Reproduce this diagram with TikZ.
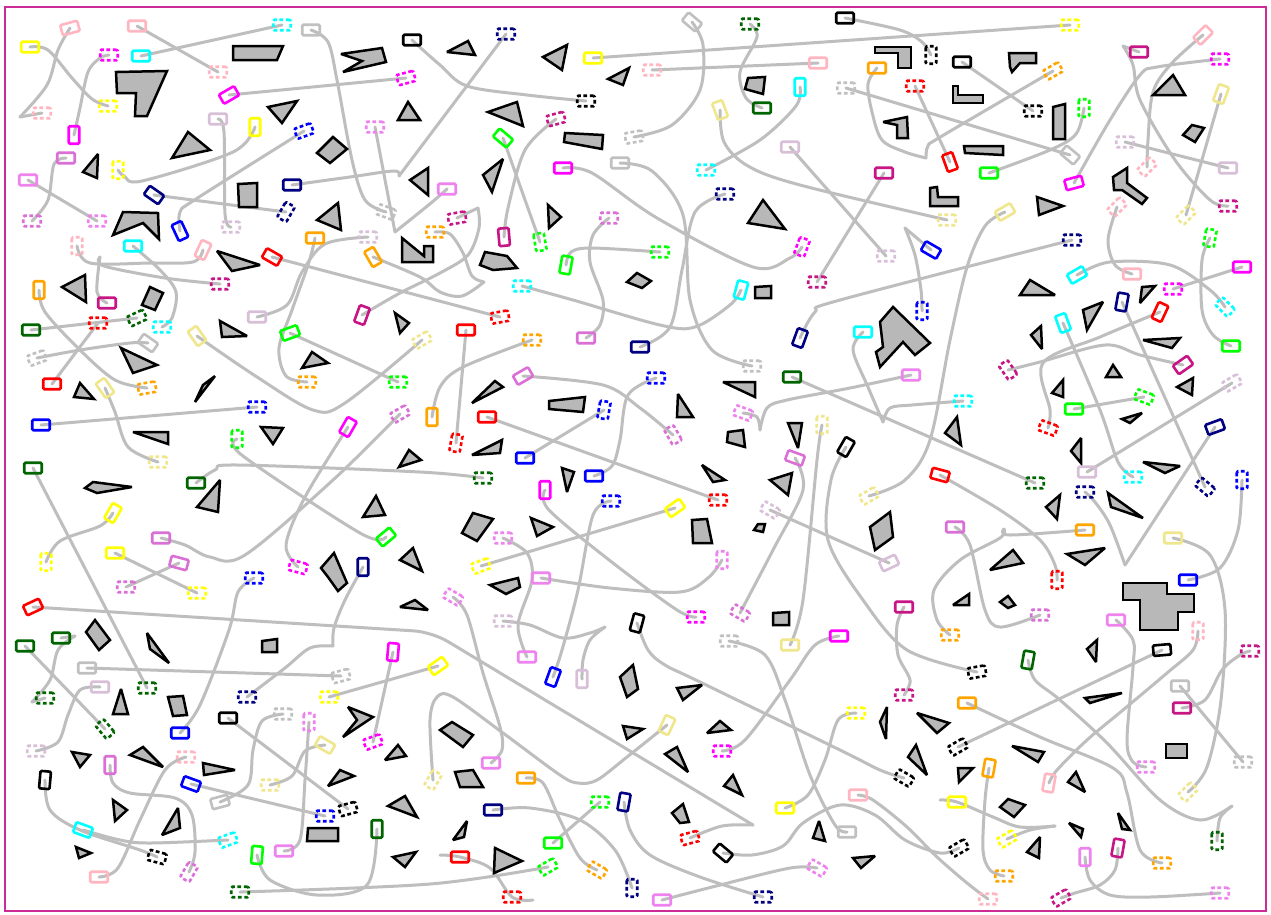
\documentclass[tikz,border=0pt]{standalone}
\usetikzlibrary{backgrounds}
\definecolor{cPink}{RGB}{255,182,193}
\definecolor{cYel}{RGB}{255,255,0}
\definecolor{cCyan}{RGB}{0,255,255}
\definecolor{cMag}{RGB}{255,0,255}
\definecolor{cSil}{RGB}{192,192,192}
\definecolor{cThi}{RGB}{216,191,216}
\definecolor{cBlue}{RGB}{0,0,255}
\definecolor{cNavy}{RGB}{0,0,128}
\definecolor{cOrc}{RGB}{218,112,214}
\definecolor{cVio}{RGB}{238,130,238}
\definecolor{cMVR}{RGB}{199,21,133}
\definecolor{cOra}{RGB}{255,165,0}
\definecolor{cDGr}{RGB}{0,100,0}
\definecolor{cLime}{RGB}{0,255,0}
\definecolor{cRed}{RGB}{255,0,0}
\definecolor{cKha}{RGB}{240,230,140}
\definecolor{cRoute}{RGB}{190,190,190}
\definecolor{cObst}{RGB}{184,184,184}
\definecolor{cFrame}{RGB}{204,44,150}
\pgfdeclarelayer{bg}
\pgfsetlayers{bg,main}
\tikzset{
  agent/.style={rectangle, rounded corners=1.2pt, line width=2.6pt, minimum width=17.5pt, minimum height=10.5pt, inner sep=0pt, outer sep=0pt},
  gd/.style={dash pattern=on 3.8pt off 2.6pt},
  route/.style={draw=cRoute, line width=3pt, line cap=round, line join=round},
  obst/.style={draw=black, fill=cObst, line width=2.5pt, line join=miter, miter limit=3},
  frame/.style={draw=cFrame, line width=2.9pt}
}
\newcommand\SA[5]{\node[agent,draw=#2,rotate=#5] (#1) at (#3,#4) {};}
\newcommand\GA[5]{\node[agent,gd,draw=#2,rotate=#5] (#1) at (#3,#4) {};}
\newcommand\Rt[1]{\draw[route] plot[smooth,tension=0.55] coordinates {#1};}
\newcommand\Rl[2]{\draw[route] (#1.center) -- (#2.center);}
\newcommand\OB[1]{\draw[obst] #1 -- cycle;}
\begin{document}
\begin{tikzpicture}[x=1pt,y=-1pt]
\useasboundingbox (0,0) rectangle (1271,914);
% ---------------- obstacles ----------------
\OB{(116,72) -- (167,71) -- (147,116) -- (135,116) -- (136,93) -- (117,93)}
\OB{(233,46) -- (283,46) -- (277,60) -- (233,60)}
\OB{(341,54) -- (382,48) -- (386,62) -- (343,72) -- (362,61)}
\OB{(268,107) -- (297,101) -- (282,123)}
\OB{(172,158) -- (188,132) -- (210,150)}
\OB{(83,172) -- (98,154) -- (97,178)}
\OB{(238,184) -- (257,183) -- (257,207) -- (239,207)}
\OB{(317,153) -- (333,137) -- (347,149) -- (330,163)}
\OB{(398,120) -- (408,102) -- (420,120)}
\OB{(317,220) -- (338,203) -- (341,230)}
\OB{(410,180) -- (428,168) -- (428,195)}
\OB{(113,235) -- (123,212) -- (158,213) -- (159,239) -- (143,223)}
\OB{(217,251) -- (260,265) -- (232,271)}
\OB{(62,287) -- (85,275) -- (86,302)}
\OB{(142,305) -- (150,287) -- (163,293) -- (155,310)}
\OB{(402,238) -- (424,256) -- (424,246) -- (433,246) -- (433,262) -- (402,262)}
\OB{(447,52) -- (468,41) -- (475,55)}
\OB{(543,57) -- (567,45) -- (562,70)}
\OB{(608,79) -- (629,68) -- (623,85)}
\OB{(488,112) -- (517,102) -- (523,126)}
\OB{(565,133) -- (603,135) -- (602,149) -- (564,142)}
\OB{(483,175) -- (503,159) -- (492,192)}
\OB{(548,205) -- (561,217) -- (549,228)}
\OB{(480,265) -- (485,252) -- (507,256) -- (517,268) -- (493,270)}
\OB{(627,282) -- (637,273) -- (651,281) -- (642,288)}
\OB{(745,89) -- (748,78) -- (765,77) -- (763,94)}
\OB{(748,223) -- (763,200) -- (785,229)}
\OB{(755,287) -- (771,286) -- (771,298) -- (755,298)}
\OB{(875,47) -- (911,47) -- (911,68) -- (898,68) -- (898,53) -- (875,53)}
\OB{(953,86) -- (958,86) -- (958,95) -- (983,95) -- (983,103) -- (953,103)}
\OB{(1009,53) -- (1036,53) -- (1036,63) -- (1020,63) -- (1012,72) -- (1010,67)}
\OB{(883,122) -- (907,117) -- (908,138) -- (897,138) -- (897,125)}
\OB{(964,146) -- (1003,146) -- (1003,155) -- (965,153)}
\OB{(1053,107) -- (1065,104) -- (1065,139) -- (1053,139)}
\OB{(930,188) -- (937,187) -- (938,197) -- (958,197) -- (958,206) -- (930,206)}
\OB{(1037,197) -- (1063,206) -- (1039,215)}
\OB{(1153,95) -- (1173,75) -- (1185,95)}
\OB{(1183,135) -- (1192,125) -- (1204,128) -- (1195,142)}
\OB{(1113,177) -- (1127,168) -- (1127,183) -- (1147,198) -- (1142,204) -- (1122,190) -- (1114,190)}
\OB{(1020,295) -- (1030,280) -- (1055,295)}
\OB{(1140,303) -- (1142,287) -- (1155,286)}
\OB{(121,348) -- (157,365) -- (133,373)}
\OB{(80,383) -- (94,399) -- (74,397)}
\OB{(195,402) -- (215,376) -- (203,385)}
\OB{(220,321) -- (247,336) -- (222,337)}
\OB{(302,368) -- (312,352) -- (328,363)}
\OB{(395,313) -- (409,323) -- (400,333)}
\OB{(133,432) -- (168,432) -- (168,444)}
\OB{(261,427) -- (283,428) -- (273,444)}
\OB{(399,467) -- (409,450) -- (421,460)}
\OB{(85,488) -- (93,482) -- (132,487) -- (97,493)}
\OB{(197,507) -- (220,480) -- (218,512)}
\OB{(363,517) -- (376,496) -- (385,515)}
\OB{(321,568) -- (334,553) -- (347,583) -- (338,591) -- (328,577)}
\OB{(400,560) -- (413,548) -- (422,571)}
\OB{(400,607) -- (415,600) -- (428,610)}
\OB{(472,403) -- (495,381) -- (503,387)}
\OB{(549,401) -- (585,397) -- (583,412) -- (549,409)}
\OB{(472,455) -- (502,440) -- (500,453)}
\OB{(562,468) -- (574,472) -- (567,492)}
\OB{(678,394) -- (693,417) -- (677,417)}
\OB{(723,382) -- (755,382) -- (755,397)}
\OB{(728,432) -- (743,430) -- (745,447) -- (727,442)}
\OB{(788,423) -- (802,423) -- (798,448)}
\OB{(702,465) -- (725,480) -- (713,482)}
\OB{(770,480) -- (792,473) -- (788,495)}
\OB{(462,533) -- (473,513) -- (493,519) -- (477,541)}
\OB{(531,518) -- (553,527) -- (537,536)}
\OB{(692,520) -- (707,519) -- (712,543) -- (693,543)}
\OB{(754,530) -- (758,524) -- (765,524) -- (763,532)}
\OB{(490,585) -- (518,578) -- (520,587) -- (506,594)}
\OB{(893,307) -- (930,343) -- (915,355) -- (903,342) -- (880,367) -- (876,352) -- (883,347) -- (880,322)}
\OB{(945,433) -- (957,417) -- (961,445)}
\OB{(870,527) -- (890,512) -- (893,537) -- (875,550)}
\OB{(1031,335) -- (1041,326) -- (1042,349)}
\OB{(1083,310) -- (1103,302) -- (1087,330)}
\OB{(1143,340) -- (1180,338) -- (1172,348)}
\OB{(1106,377) -- (1113,365) -- (1121,377)}
\OB{(1052,393) -- (1063,380) -- (1063,397)}
\OB{(1177,387) -- (1193,378) -- (1192,395)}
\OB{(1122,419) -- (1142,413) -- (1130,423)}
\OB{(1071,451) -- (1081,438) -- (1081,463)}
\OB{(1143,462) -- (1180,466) -- (1165,473)}
\OB{(1046,507) -- (1060,495) -- (1057,519)}
\OB{(1108,493) -- (1143,518) -- (1111,507)}
\OB{(990,570) -- (1013,550) -- (1023,563)}
\OB{(1067,554) -- (1105,548) -- (1085,565)}
\OB{(953,605) -- (969,594) -- (969,605)}
\OB{(1000,602) -- (1008,596) -- (1015,605) -- (1008,608)}
\OB{(1123,583) -- (1167,583) -- (1167,594) -- (1194,594) -- (1194,612) -- (1178,612) -- (1178,630) -- (1140,630) -- (1140,600) -- (1123,600)}
\OB{(86,632) -- (95,620) -- (110,640) -- (99,650)}
\OB{(147,633) -- (150,649) -- (169,663)}
\OB{(262,641) -- (277,639) -- (277,652) -- (262,652)}
\OB{(168,697) -- (183,696) -- (187,715) -- (173,716)}
\OB{(113,714) -- (121,689) -- (128,714)}
\OB{(72,752) -- (90,755) -- (80,767)}
\OB{(130,755) -- (143,747) -- (163,767)}
\OB{(203,763) -- (235,770) -- (204,775)}
\OB{(113,800) -- (115,821) -- (127,810)}
\OB{(162,835) -- (178,808) -- (180,828)}
\OB{(76,847) -- (91,853) -- (79,858)}
\OB{(348,707) -- (373,717) -- (343,737) -- (357,720)}
\OB{(385,760) -- (398,745) -- (406,756)}
\OB{(328,786) -- (340,770) -- (354,776)}
\OB{(388,806) -- (405,796) -- (417,817)}
\OB{(308,828) -- (338,828) -- (338,841) -- (307,841)}
\OB{(393,857) -- (416,852) -- (405,867)}
\OB{(620,677) -- (633,665) -- (638,689) -- (627,697)}
\OB{(677,688) -- (702,685) -- (683,700)}
\OB{(440,730) -- (452,722) -- (473,735) -- (463,747)}
\OB{(623,726) -- (643,729) -- (627,739)}
\OB{(707,733) -- (720,721) -- (731,730)}
\OB{(665,754) -- (677,747) -- (688,772)}
\OB{(724,786) -- (733,775) -- (742,795)}
\OB{(455,772) -- (473,770) -- (483,787) -- (460,787)}
\OB{(453,840) -- (467,821) -- (464,837)}
\OB{(495,848) -- (522,861) -- (494,873)}
\OB{(672,813) -- (683,804) -- (689,822) -- (680,823)}
\OB{(813,838) -- (819,821) -- (825,841)}
\OB{(773,613) -- (789,612) -- (789,625) -- (773,625)}
\OB{(853,858) -- (875,856) -- (861,868)}
\OB{(1087,649) -- (1097,640) -- (1096,662)}
\OB{(880,722) -- (887,707) -- (886,739)}
\OB{(917,713) -- (949,723) -- (937,733)}
\OB{(1085,698) -- (1122,693) -- (1090,703)}
\OB{(908,757) -- (916,745) -- (927,775)}
\OB{(958,768) -- (973,768) -- (959,782)}
\OB{(1012,746) -- (1044,752) -- (1038,762)}
\OB{(1166,744) -- (1187,744) -- (1187,758) -- (1166,758)}
\OB{(1000,807) -- (1008,799) -- (1025,805) -- (1014,817)}
\OB{(1068,782) -- (1076,772) -- (1085,792)}
\OB{(1069,823) -- (1083,829) -- (1081,837)}
\OB{(1118,813) -- (1130,830) -- (1122,829)}
\OB{(1027,852) -- (1040,837) -- (1039,858)}
% ---------------- agents ----------------
\SA{s1}{cPink}{70}{28}{15} \GA{g1}{cPink}{42}{113}{0}
\SA{s2}{cYel}{30}{47}{0} \GA{g2}{cYel}{108}{106}{0}
\SA{s3}{cPink}{137}{26}{0} \GA{g3}{cPink}{218}{72}{0}
\SA{s4}{cCyan}{141}{56}{0} \GA{g4}{cCyan}{282}{25}{0}
\SA{s5}{cMag}{74}{135}{90} \GA{g5}{cMag}{109}{55}{0}
\SA{s6}{cSil}{311}{30}{0} \GA{g6}{cSil}{386}{212}{-20}
\SA{s7}{black}{412}{40}{0} \GA{g7}{black}{586}{101}{0}
\SA{s8}{cMag}{229}{95}{30} \GA{g8}{cMag}{406}{78}{15}
\SA{s9}{cThi}{218}{119}{0} \GA{g9}{cThi}{231}{227}{0}
\SA{s10}{cYel}{255}{127}{90} \GA{g10}{cYel}{118}{170}{90}
\SA{s11}{cBlue}{180}{231}{115} \GA{g11}{cBlue}{304}{131}{20}
\SA{s12}{cNavy}{292}{185}{0} \GA{g12}{cNavy}{506}{34}{0}
\SA{s13}{cNavy}{154}{195}{-35} \GA{g13}{cNavy}{286}{212}{60}
\SA{s14}{cOrc}{66}{158}{0} \GA{g14}{cOrc}{32}{221}{0}
\SA{s15}{cVio}{28}{180}{0} \GA{g15}{cVio}{97}{221}{0}
\SA{s16}{cPink}{203}{250}{65} \GA{g16}{cPink}{77}{246}{90}
\SA{s17}{cCyan}{133}{246}{0} \GA{g17}{cCyan}{162}{327}{0}
\SA{s18}{cMVR}{107}{303}{0} \GA{g18}{cMVR}{220}{284}{0}
\SA{s19}{cOra}{39}{290}{90} \GA{g19}{cOra}{147}{388}{10}
\SA{s20}{cYel}{593}{58}{0} \GA{g20}{cYel}{1070}{25}{0}
\SA{s21}{cPink}{818}{63}{0} \GA{g21}{cPink}{652}{70}{0}
\SA{s22}{cSil}{692}{22}{-40} \GA{g22}{cSil}{634}{137}{10}
\SA{s23}{cDGr}{762}{108}{0} \GA{g23}{cDGr}{750}{24}{0}
\SA{s24}{cCyan}{800}{87}{90} \GA{g24}{cCyan}{706}{170}{0}
\SA{s25}{cKha}{720}{110}{110} \GA{g25}{cKha}{947}{220}{0}
\SA{s26}{cThi}{790}{147}{0} \GA{g26}{cThi}{886}{256}{0}
\SA{s27}{cLime}{503}{138}{-40} \GA{g27}{cLime}{540}{242}{100}
\SA{s28}{cMVR}{504}{237}{95} \GA{g28}{cMVR}{556}{119}{15}
\SA{s29}{cMag}{563}{168}{0} \GA{g29}{cMag}{802}{247}{70}
\SA{s30}{cSil}{620}{163}{0} \GA{g30}{cSil}{752}{366}{0}
\SA{s31}{cNavy}{640}{347}{0} \GA{g31}{cNavy}{725}{194}{0}
\SA{s32}{cOra}{373}{257}{-60} \GA{g32}{cOra}{435}{232}{0}
\SA{s33}{cThi}{257}{317}{0} \GA{g33}{cThi}{368}{237}{0}
\SA{s34}{cOra}{315}{238}{0} \GA{g34}{cOra}{307}{382}{0}
\SA{s35}{cLime}{290}{333}{20} \GA{g35}{cLime}{398}{382}{0}
\SA{s36}{cRed}{272}{257}{-30} \GA{g36}{cRed}{500}{317}{10}
\SA{s37}{cMVR}{362}{315}{70} \GA{g37}{cMVR}{457}{218}{10}
\SA{s38}{cVio}{447}{189}{0} \GA{g38}{cVio}{375}{127}{0}
\SA{s39}{cDGr}{31}{330}{0} \GA{g39}{cDGr}{137}{318}{25}
\SA{s40}{cRed}{52}{384}{0} \GA{g40}{cRed}{98}{323}{0}
\SA{s41}{cSil}{148}{343}{-35} \GA{g41}{cSil}{37}{358}{20}
\SA{s42}{cKha}{105}{388}{-55} \GA{g42}{cKha}{158}{462}{0}
\SA{s43}{cKha}{197}{336}{-55} \GA{g43}{cKha}{422}{340}{30}
\SA{s44}{cBlue}{41}{425}{0} \GA{g44}{cBlue}{257}{407}{0}
\SA{s45}{cLime}{386}{537}{40} \GA{g45}{cLime}{237}{439}{90}
\SA{s46}{cDGr}{33}{468}{0} \GA{g46}{cDGr}{147}{688}{0}
\SA{s47}{cDGr}{196}{483}{0} \GA{g47}{cDGr}{483}{478}{0}
\SA{s48}{cMag}{348}{427}{60} \GA{g48}{cMag}{298}{567}{-15}
\SA{s49}{cOrc}{161}{538}{0} \GA{g49}{cOrc}{400}{414}{30}
\SA{s50}{cYel}{113}{513}{60} \GA{g50}{cYel}{46}{562}{90}
\SA{s51}{cYel}{115}{553}{0} \GA{g51}{cYel}{197}{593}{0}
\SA{s52}{cOrc}{179}{563}{-15} \GA{g52}{cOrc}{126}{587}{0}
\SA{s53}{cBlue}{180}{733}{0} \GA{g53}{cBlue}{254}{578}{0}
\SA{s54}{cNavy}{363}{567}{90} \GA{g54}{cNavy}{247}{697}{0}
\SA{s55}{cRed}{33}{607}{25} \GA{g55}{cRed}{690}{838}{15}
\SA{s56}{cRed}{466}{330}{0} \GA{g56}{cRed}{456}{443}{80}
\SA{s57}{cOra}{432}{417}{90} \GA{g57}{cOra}{532}{340}{0}
\SA{s58}{cOrc}{523}{376}{30} \GA{g58}{cOrc}{673}{435}{-60}
\SA{s59}{cBlue}{525}{458}{0} \GA{g59}{cBlue}{604}{410}{80}
\SA{s60}{cRed}{487}{417}{0} \GA{g60}{cRed}{718}{500}{0}
\SA{s61}{cBlue}{594}{476}{0} \GA{g61}{cBlue}{656}{378}{0}
\SA{s62}{cMag}{545}{490}{90} \GA{g62}{cMag}{696}{617}{0}
\SA{s63}{cBlue}{553}{677}{70} \GA{g63}{cBlue}{611}{501}{0}
\SA{s64}{cYel}{675}{508}{35} \GA{g64}{cYel}{481}{566}{20}
\SA{s65}{cVio}{527}{657}{0} \GA{g65}{cVio}{503}{538}{0}
\SA{s66}{cVio}{541}{578}{0} \GA{g66}{cVio}{722}{560}{90}
\SA{s67}{cVio}{491}{763}{0} \GA{g67}{cVio}{453}{597}{-30}
\SA{s68}{cThi}{889}{563}{25} \GA{g68}{cThi}{770}{510}{-30}
\SA{s69}{cKha}{790}{645}{0} \GA{g69}{cKha}{822}{425}{90}
\SA{s70}{black}{846}{447}{60} \GA{g70}{black}{977}{672}{10}
\SA{s71}{cOrc}{795}{458}{-20} \GA{g71}{cOrc}{740}{613}{-30}
\SA{s72}{cVio}{911}{375}{0} \GA{g72}{cVio}{743}{413}{-20}
\SA{s73}{cDGr}{792}{377}{0} \GA{g73}{cDGr}{1035}{483}{0}
\SA{s74}{cCyan}{863}{332}{0} \GA{g74}{cCyan}{963}{401}{0}
\SA{s75}{cBlue}{931}{250}{-30} \GA{g75}{cBlue}{922}{311}{90}
\SA{s76}{cKha}{1005}{212}{30} \GA{g76}{cKha}{869}{496}{30}
\SA{s77}{cRed}{940}{475}{-15} \GA{g77}{cRed}{1057}{580}{90}
\SA{s78}{cOra}{1085}{530}{0} \GA{g78}{cOra}{950}{635}{0}
\SA{s79}{cOrc}{955}{527}{0} \GA{g79}{cOrc}{1040}{615}{0}
\SA{s80}{cMVR}{1183}{365}{35} \GA{g80}{cMVR}{1008}{370}{-55}
\SA{s81}{cRed}{1160}{312}{65} \GA{g81}{cRed}{1048}{428}{-20}
\SA{s82}{cCyan}{1063}{323}{110} \GA{g82}{cCyan}{1133}{477}{0}
\SA{s83}{cNavy}{1122}{302}{80} \GA{g83}{cNavy}{1205}{487}{-40}
\SA{s84}{cNavy}{1215}{427}{20} \GA{g84}{cNavy}{1085}{492}{0}
\SA{s85}{cLime}{1074}{409}{0} \GA{g85}{cLime}{1144}{397}{-20}
\SA{s86}{cThi}{1087}{472}{0} \GA{g86}{cThi}{1232}{383}{30}
\SA{s87}{cBlue}{1188}{580}{0} \GA{g87}{cBlue}{1242}{480}{90}
\SA{s88}{cKha}{1173}{538}{0} \GA{g88}{cKha}{1188}{792}{45}
\SA{s89}{cMVR}{1139}{52}{0} \GA{g89}{cMVR}{1228}{206}{0}
\SA{s90}{cPink}{1203}{35}{45} \GA{g90}{cPink}{1147}{167}{45}
\SA{s91}{cMag}{1074}{183}{15} \GA{g91}{cMag}{1220}{59}{0}
\SA{s92}{cKha}{1221}{94}{70} \GA{g92}{cKha}{1186}{215}{45}
\SA{s93}{cThi}{1228}{168}{0} \GA{g93}{cThi}{1125}{142}{0}
\SA{s94}{cPink}{1132}{274}{0} \GA{g94}{cPink}{1117}{207}{45}
\SA{s95}{cNavy}{800}{338}{70} \GA{g95}{cNavy}{1072}{240}{0}
\SA{s97}{cCyan}{1077}{275}{30} \GA{g97}{cCyan}{1225}{307}{-45}
\SA{s98}{cLime}{1231}{346}{0} \GA{g98}{cLime}{1210}{238}{80}
\SA{s99}{cMag}{1242}{267}{0} \GA{g99}{cMag}{1173}{289}{0}
\SA{s100}{black}{845}{18}{0} \GA{g100}{black}{931}{55}{90}
\SA{s101}{cOra}{877}{68}{0} \GA{g101}{cOra}{1053}{71}{30}
\SA{s102}{cRed}{950}{162}{110} \GA{g102}{cRed}{915}{86}{0}
\SA{s103}{black}{962}{62}{0} \GA{g103}{black}{1033}{111}{0}
\SA{s104}{cSil}{1070}{155}{-40} \GA{g104}{cSil}{846}{88}{0}
\SA{s105}{cLime}{989}{173}{0} \GA{g105}{cLime}{1084}{108}{90}
\SA{s106}{cMVR}{884}{173}{0} \GA{g106}{cMVR}{817}{282}{0}
\SA{s107}{cDGr}{25}{646}{0} \GA{g107}{cDGr}{105}{729}{-50}
\SA{s108}{cDGr}{61}{638}{0} \GA{g108}{cDGr}{45}{698}{0}
\SA{s109}{cSil}{87}{668}{0} \GA{g109}{cSil}{341}{676}{15}
\SA{s110}{cThi}{100}{687}{0} \GA{g110}{cThi}{36}{751}{0}
\SA{s111}{cYel}{438}{666}{35} \GA{g111}{cYel}{329}{697}{0}
\SA{s112}{cMag}{393}{652}{85} \GA{g112}{cMag}{373}{742}{20}
\SA{s113}{black}{228}{718}{0} \GA{g113}{black}{348}{809}{15}
\SA{s114}{cSil}{220}{802}{15} \GA{g114}{cSil}{283}{714}{0}
\SA{s115}{cVio}{284}{851}{0} \GA{g115}{cVio}{309}{722}{90}
\SA{s116}{cKha}{325}{745}{-30} \GA{g116}{cKha}{270}{785}{0}
\SA{s117}{cBlue}{191}{784}{-20} \GA{g117}{cBlue}{325}{816}{0}
\SA{s118}{cPink}{99}{877}{0} \GA{g118}{cPink}{186}{757}{0}
\SA{s119}{cOrc}{110}{765}{90} \GA{g119}{cOrc}{189}{872}{60}
\SA{s120}{black}{45}{780}{85} \GA{g120}{black}{157}{857}{-15}
\SA{s121}{cCyan}{83}{830}{-20} \GA{g121}{cCyan}{228}{840}{20}
\SA{s122}{cLime}{257}{855}{85} \SA{s123}{cDGr}{377}{829}{90}
\GA{g124}{cDGr}{240}{892}{0} \GA{g125}{cLime}{548}{867}{30}
\SA{s126}{cThi}{582}{679}{90} \GA{g126}{cThi}{503}{621}{0}
\SA{s127}{black}{637}{623}{75} \GA{g127}{black}{904}{778}{-30}
\SA{s128}{cSil}{847}{832}{0} \GA{g128}{cSil}{729}{641}{0}
\SA{s129}{cMag}{839}{636}{0} \GA{g129}{cMag}{722}{751}{0}
\SA{s130}{cKha}{667}{725}{65} \GA{g130}{cKha}{433}{780}{60}
\SA{s131}{cOra}{526}{778}{0} \GA{g131}{cOra}{597}{870}{-30}
\SA{s132}{cNavy}{493}{810}{0} \GA{g132}{cNavy}{632}{888}{90}
\SA{s133}{cLime}{553}{843}{0} \GA{g133}{cLime}{600}{802}{0}
\SA{s134}{cNavy}{624}{802}{80} \GA{g134}{cNavy}{763}{897}{0}
\SA{s135}{cRed}{460}{857}{0} \GA{g135}{cRed}{512}{897}{0}
\SA{s136}{cVio}{662}{900}{0} \GA{g136}{cVio}{817}{868}{-30}
\SA{s137}{black}{723}{853}{-40} \GA{g137}{black}{959}{848}{30}
\SA{s138}{cMVR}{904}{607}{0} \GA{g138}{cMVR}{904}{695}{0}
\SA{s139}{cVio}{1116}{620}{0} \GA{g139}{cVio}{1146}{767}{0}
\SA{s140}{cPink}{1049}{783}{80} \GA{g140}{cPink}{1198}{631}{90}
\SA{s141}{cDGr}{1028}{660}{80} \GA{g141}{cDGr}{1217}{841}{90}
\SA{s142}{black}{1162}{650}{5} \GA{g142}{black}{958}{747}{30}
\SA{s143}{cSil}{1180}{686}{0} \GA{g143}{cSil}{1243}{762}{0}
\SA{s144}{cMVR}{1182}{708}{0} \GA{g144}{cMVR}{1250}{651}{0}
\SA{s145}{cYel}{785}{808}{0} \GA{g145}{cYel}{856}{713}{0}
\SA{s146}{cOra}{967}{703}{0} \GA{g146}{cOra}{1162}{863}{0}
\SA{s147}{cOra}{989}{768}{80} \GA{g147}{cOra}{1004}{876}{0}
\SA{s148}{cYel}{957}{802}{0} \GA{g148}{cYel}{1007}{839}{30}
\SA{s149}{cPink}{858}{795}{0} \GA{g149}{cPink}{988}{899}{0}
\SA{s150}{cVio}{1085}{857}{90} \GA{g150}{cVio}{1220}{893}{0}
\SA{s151}{cMVR}{1118}{848}{80} \GA{g151}{cMVR}{1061}{898}{30}
\SA{s152}{cOrc}{586}{338}{0} \GA{g152}{cOrc}{609}{218}{0}
\SA{s153}{cLime}{566}{265}{80} \GA{g153}{cLime}{660}{252}{0}
\SA{s154}{cCyan}{741}{290}{75} \GA{g154}{cCyan}{522}{286}{0}
% ---------------- routes ----------------
\begin{pgfonlayer}{bg}
\fill[white] (0,0) rectangle (1271,914);
\Rt{(s1.center) (58,50) (47,85) (20,117)} \draw[route] (20,117) -- (g1.center);
\Rt{(s2.center) (48,50) (72,78) (92,99) (g2.center)}
\Rl{s3}{g3} \Rl{s4}{g4}
\Rt{(s5.center) (80,108) (88,72) (100,58) (g5.center)}
\Rt{(s6.center) (328,42) (337,80) (352,160) (365,200) (g6.center)}
\Rt{(s7.center) (440,65) (467,86) (527,95) (g7.center)}
\Rl{s8}{g8}
\Rt{(s9.center) (224,132) (225,214) (g9.center)}
\Rt{(g10.center) (124,176) (142,181) (233,152) (s10.center)}
\Rt{(s11.center) (180,212) (196,199) (g11.center)}
\Rt{(s12.center) (350,177) (394,171) (399,176)} \draw[route] (399,176) -- (g12.center);
\Rl{s13}{g13}
\Rt{(s14.center) (54,164) (48,200) (g14.center)}
\Rl{s15}{g15}
\Rt{(s16.center) (193,262) (150,263) (90,263) (g16.center)}
\Rt{(s17.center) (160,270) (176,292) (172,318) (g17.center)}
\Rt{(s18.center) (97,292) (100,257)} \Rt{(100,257) (104,266) (165,278) (g18.center)}
\Rt{(s19.center) (45,312) (80,350) (115,380) (g19.center)}
\Rl{s20}{g20} \Rl{s21}{g21}
\Rt{(s22.center) (703,45) (700,90) (672,125) (g22.center)}
\Rt{(g23.center) (757,37) (740,72) (746,98) (s23.center)}
\Rt{(s24.center) (796,106) (760,140) (g24.center)}
\Rt{(s25.center) (724,142) (748,166) (800,185) (g25.center)}
\Rl{s26}{g26} \Rl{s27}{g27}
\Rt{(s28.center) (508,208) (525,150) (g28.center)}
\Rt{(s29.center) (592,173) (657,218) (753,267) (790,258) (g29.center)}
\Rt{(s30.center) (652,171) (683,215) (690,300) (712,350) (g30.center)}
\Rt{(s31.center) (670,327) (682,270) (695,212) (g31.center)}
\Rt{(s32.center) (420,277) (440,292) (462,296) (484,282)} \Rt{(484,282) (472,276) (463,253) (450,234) (g32.center)}
\Rt{(s33.center) (287,305) (302,272) (325,244) (g33.center)}
\Rt{(s34.center) (309,262) (292,310) (279,348) (286,376) (g34.center)}
\Rl{s35}{g35} \Rl{s36}{g36}
\Rt{(s37.center) (400,293) (440,273) (468,255) (479,228) (478,208)} \draw[route] (478,208) -- (g37.center);
\Rt{(s38.center) (431,203) (395,232)} \Rt{(395,232) (386,185) (g38.center)}
\Rl{s39}{g39} \Rl{s40}{g40}
\Rt{(g41.center) (80,350) (130,343) (s41.center)}
\Rt{(s42.center) (115,412) (128,447) (g42.center)}
\Rt{(s43.center) (257,377) (313,410) (345,403) (g43.center)}
\Rl{s44}{g44}
\Rt{(g45.center) (243,456) (360,533) (s45.center)}
\Rl{s46}{g46}
\Rt{(s47.center) (215,470) (238,465) (420,472) (g47.center)}
\Rt{(s48.center) (305,497) (286,545) (g48.center)}
\Rt{(s49.center) (185,545) (210,557) (245,555) (333,480) (g49.center)}
\Rt{(s50.center) (100,526) (60,541) (g50.center)}
\Rl{s51}{g51} \Rl{s52}{g52}
\Rt{(g53.center) (238,592) (229,630) (200,705) (s53.center)}
\Rt{(s54.center) (345,600) (334,628) (333,646)} \Rt{(333,646) (310,648) (285,668) (g54.center)}
\draw[route, rounded corners=18pt] (s55.center) -- (432,632) -- (753,825);
\Rt{(753,825) (722,826) (g55.center)}
\Rl{s56}{g56}
\Rt{(s57.center) (440,387) (463,367) (g57.center)}
\Rt{(s58.center) (603,385) (640,408) (g58.center)}
\Rl{s59}{g59} \Rl{s60}{g60}
\Rt{(s61.center) (612,466) (620,440) (628,395) (g61.center)}
\Rt{(s62.center) (549,510) (613,563) (677,610) (g62.center)}
\Rt{(s63.center) (562,650) (578,590) (593,515) (g63.center)}
\Rl{s64}{g64}
\Rt{(g65.center) (527,553) (532,580) (518,625) (s65.center)}
\Rt{(s66.center) (610,588) (680,592) (708,578) (g66.center)}
\Rt{(g67.center) (467,615) (483,673) (500,727) (502,750) (s67.center)}
\Rl{s68}{g68}
\Rt{(g69.center) (817,460) (803,600) (s69.center)}
\Rt{(s70.center) (831,480) (828,540) (863,600) (907,650) (g70.center)}
\Rt{(s71.center) (803,490) (773,550) (g71.center)}
\Rt{(s72.center) (850,388) (787,400) (767,408) (760,430)} \Rt{(760,430) (757,417) (g72.center)}
\Rl{s73}{g73}
\Rt{(s74.center) (853,350) (868,387) (883,422)} \Rt{(883,422) (890,408) (912,405) (g74.center)}
\draw[route] (s75.center) -- (905,228); \Rt{(905,228) (915,255) (921,290) (g75.center)}
\Rt{(s76.center) (985,226) (967,267) (950,340) (930,440) (905,480) (g76.center)}
\Rt{(s77.center) (1000,510) (1040,540) (1055,565) (g77.center)}
\Rt{(s78.center) (1010,535) (1004,529)} \Rt{(1004,529) (1000,538) (960,560) (934,590) (937,620) (g78.center)}
\Rt{(s79.center) (970,545) (985,610) (1000,627) (g79.center)}
\Rt{(g80.center) (1040,362) (1105,345) (1140,355) (s80.center)}
\Rt{(s81.center) (1100,337) (1043,363) (1050,410) (g81.center)}
\Rt{(s82.center) (1100,410) (1118,462) (g82.center)}
\Rl{s83}{g83}
\draw[route] (s84.center) -- (1125,565); \Rt{(1125,565) (1110,525) (1095,502) (g84.center)}
\Rl{s85}{g85} \Rl{s86}{g86}
\Rt{(s87.center) (1220,568) (1238,530) (g87.center)}
\Rt{(s88.center) (1210,555) (1225,610) (1221,700) (1207,767) (g88.center)}
\draw[route] (s89.center) -- (1123,46); \Rt{(1123,46) (1133,65) (1140,100) (1175,160) (1210,200) (g89.center)}
\Rt{(s90.center) (1172,63) (1153,92) (1148,140) (g90.center)}
\Rt{(s91.center) (1110,120) (1140,75) (1157,67) (g91.center)}
\Rl{s92}{g92} \Rl{s93}{g93}
\Rt{(g94.center) (1108,240) (1115,265) (s94.center)}
\Rt{(s95.center) (815,312) (840,300) (g95.center)}
\Rt{(s97.center) (1110,262) (1170,265) (1210,290) (g97.center)}
\Rt{(g98.center) (1202,260) (1202,310) (1213,335) (s98.center)}
\Rl{s99}{g99}
\Rt{(s100.center) (900,30) (922,42) (g100.center)}
\Rt{(s101.center) (868,84) (872,112) (882,140) (905,152) (926,158)} \Rt{(926,158) (928,146) (942,136) (g101.center)}
\Rl{s102}{g102} \Rl{s103}{g103} \Rl{s104}{g104}
\Rt{(s105.center) (1050,150) (1076,134) (g105.center)}
\Rl{s106}{g106} \Rl{s107}{g107}
\draw[route] (s108.center) -- (75,636); \Rt{(75,636) (58,650) (50,680) (32,702)} \draw[route] (32,702) -- (g108.center);
\Rl{s109}{g109}
\Rt{(s110.center) (80,690) (68,715) (58,742) (g110.center)}
\Rl{s111}{g111} \Rl{s112}{g112} \Rl{s113}{g113}
\Rt{(g114.center) (262,721) (253,750) (248,785) (s114.center)}
\Rt{(g115.center) (305,780) (300,840) (s115.center)}
\Rt{(s116.center) (305,751) (292,776) (g116.center)}
\Rl{s117}{g117}
\Rt{(s118.center) (118,868) (140,820) (165,770) (g118.center)}
\Rt{(s119.center) (113,783) (130,793) (175,798) (192,815) (195,852) (g119.center)}
\Rt{(s120.center) (50,810) (80,830) (140,850) (g120.center)}
\Rt{(s121.center) (120,840) (150,843) (g121.center)}
\Rt{(s122.center) (270,880) (317,895) (367,885) (s123.center)}
\Rt{(g124.center) (430,884) (g125.center)}
\Rt{(g126.center) (530,625) (563,638) (590,633) (605,627)} \Rt{(605,627) (590,640) (583,660) (s126.center)}
\Rt{(s127.center) (648,650) (665,665) (700,682) (840,750) (880,770) (g127.center)}
\Rt{(g128.center) (765,655) (785,700) (810,775) (835,825) (s128.center)}
\Rt{(s129.center) (815,645) (790,680) (745,740) (g129.center)}
\Rt{(s130.center) (627,757) (597,780) (578,783) (560,775) (503,733) (453,697) (437,697) (430,720) (g130.center)}
\Rt{(s131.center) (543,783) (560,820) (580,858) (g131.center)}
\Rt{(s132.center) (530,808) (580,820) (615,850) (g132.center)}
\Rl{s133}{g133}
\Rt{(s134.center) (630,830) (650,855) (700,877) (g134.center)}
\Rt{(440,855) (s135.center) (490,868) (g135.center) (533,900)}
\Rt{(s136.center) (720,885) (790,868) (g136.center)}
\Rt{(s137.center) (752,855) (783,846) (803,823) (840,805) (875,815) (905,840) (940,853) (g137.center)}
\Rt{(s138.center) (897,625) (898,655) (910,680) (g138.center)}
\Rt{(s139.center) (1133,640) (1133,667) (1127,740) (1133,762) (g139.center)}
\Rt{(g140.center) (1193,650) (1167,673) (1123,710) (1087,740) (1057,770) (s140.center)}
\Rt{(s141.center) (1035,680) (1060,700) (1107,743) (1160,800) (1200,820) (1232,806)} \Rt{(1232,806) (1220,818) (g141.center)}
\Rl{s142}{g142} \Rl{s143}{g143}
\Rt{(s144.center) (1205,700) (1222,670) (1240,655) (g144.center)}
\Rt{(s145.center) (808,795) (825,760) (838,720) (g145.center)}
\Rt{(s146.center) (1040,737) (1113,768) (1127,793) (1140,850) (g146.center)}
\Rt{(s147.center) (985,800) (983,850) (990,870) (g147.center)}
\Rt{(940,800) (s148.center) (993,817) (1020,827) (1055,826)} \Rt{(1055,826) (1030,830) (g148.center)}
\Rt{(s149.center) (873,800) (907,827) (937,857) (967,883) (g149.center)}
\Rt{(s150.center) (1090,880) (1110,895) (1150,897) (g150.center)}
\Rt{(s151.center) (1115,870) (1100,885) (1075,893) (g151.center)}
\Rt{(s152.center) (600,325) (603,300) (590,262) (593,235) (g152.center)}
\Rt{(s153.center) (571,252) (592,248) (g153.center)}
\Rt{(g154.center) (573,300) (660,325) (695,327) (730,305) (s154.center)}
\end{pgfonlayer}
% ---------------- frame ----------------
\draw[frame] (5,7) rectangle (1266,911);
\end{tikzpicture}
\end{document}
